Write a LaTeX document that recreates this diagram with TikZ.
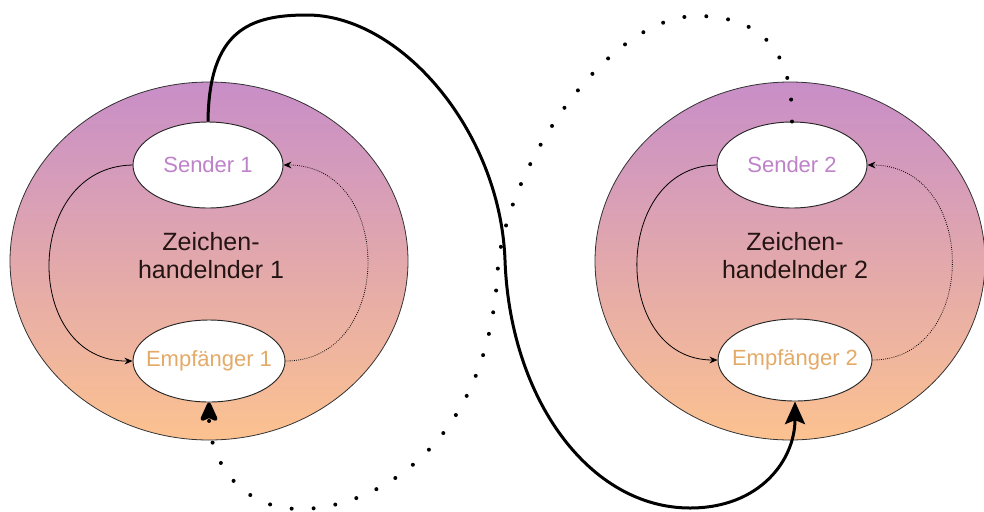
\documentclass[tikz,border=0pt]{standalone}
\usepackage{fontspec}
\setmainfont{Liberation Sans}
\usetikzlibrary{shapes.geometric,arrows.meta}
\definecolor{ringtop}{RGB}{200,142,200}
\definecolor{ringbot}{RGB}{252,194,144}
\definecolor{sendc}{RGB}{190,130,200}
\definecolor{empfc}{RGB}{228,170,104}
\definecolor{darktext}{RGB}{36,20,20}
\tikzset{
  ring/.style={ellipse, draw=black!80, line width=0.6pt, top color=ringtop, bottom color=ringbot, inner sep=0pt},
  innerell/.style={ellipse, draw=black!85, line width=0.7pt, fill=white, inner sep=0pt,
    font=\fontsize{16.5pt}{19pt}\selectfont},
  centertext/.style={align=center, text=darktext, font=\fontsize{18.75pt}{21pt}\selectfont},
  thinarrow/.style={line width=0.6pt, -{Stealth[length=6pt,width=5pt]}},
  thindot/.style={line width=0.6pt, densely dotted, -{Stealth[length=6pt,width=5pt]}},
  bigsolid/.style={line width=2.25pt, -{Stealth[length=17pt,width=15pt,inset=3pt]}},
  bigdot/.style={line width=3pt, line cap=round, dash pattern=on 0pt off 16.5pt,
    -{Stealth[length=17pt,width=15pt,inset=3pt,round=false]}}
}
\begin{document}
\begin{tikzpicture}[x=0.75pt,y=-0.75pt]
\useasboundingbox (0,0) rectangle (984,511);
\fill[white] (0,0) rectangle (984,511);
% outer rings
\node[ring, minimum width=298.5pt, minimum height=268.5pt] (z1) at (209,261) {};
\node[ring, minimum width=292.5pt, minimum height=268.5pt] (z2) at (790,261) {};
% inner ellipses
\node[innerell, minimum width=112.5pt, minimum height=64.5pt, text=sendc] (s1) at (208,165) {\makebox[0pt]{Sender 1}};
\node[innerell, minimum width=114pt, minimum height=61.5pt, text=empfc] (e1) at (209,361) {\makebox[0pt]{Empfänger 1}};
\node[innerell, minimum width=112.5pt, minimum height=64.5pt, text=sendc] (s2) at (792,165) {\makebox[0pt]{Sender 2}};
\node[innerell, minimum width=115.5pt, minimum height=61.5pt, text=empfc] (e2) at (795,360) {\makebox[0pt]{Empfänger 2}};
% centre labels
\node[centertext] (l1) at (211,256) {Zeichen-\\handelnder 1};
\node[centertext] (l2) at (795,256) {Zeichen-\\handelnder 2};
% inner loops
\draw[thinarrow] (s1.west) .. controls (22,167) and (22,362) .. (e1.west);
\draw[thindot] (e1.east) .. controls (395,361) and (395,165) .. (s1.east);
\draw[thinarrow] (s2.west) .. controls (611,167) and (611,360) .. (e2.west);
\draw[thindot] (e2.east) .. controls (979,360) and (979,165) .. (s2.east);
% big connectors
\draw[bigsolid] (s1.north) .. controls (209,30) and (250,15) .. (307,15)
  .. controls (400,15) and (500,130) .. (505,260)
  .. controls (510,400) and (590,508) .. (690,508)
  .. controls (760,508) and (795,460) .. (e2.south);
\draw[bigdot] (s2.north) .. controls (793,40) and (750,16) .. (697,16)
  .. controls (610,16) and (510,160) .. (498,265)
  .. controls (490,450) and (370,509) .. (300,509)
  .. controls (240,509) and (209,460) .. (e1.south);
\end{tikzpicture}
\end{document}
